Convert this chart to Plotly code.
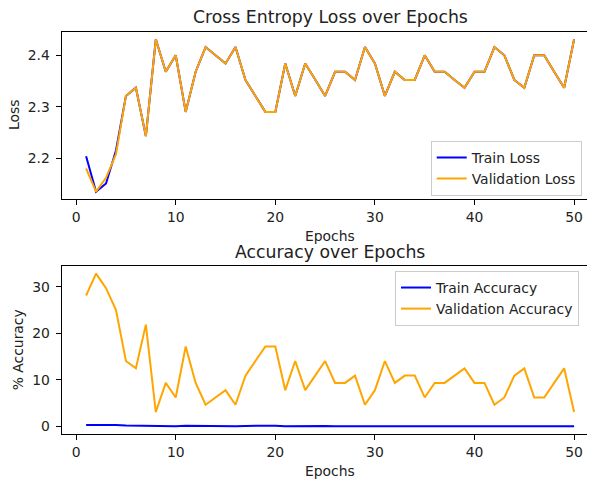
import plotly.graph_objects as go

epochs = list(range(1, 51))

train_loss = [2.204, 2.135, 2.151, 2.215, 2.321, 2.337, 2.243, 2.431, 2.368, 2.400,
              2.290, 2.368, 2.416, 2.400, 2.384, 2.416, 2.352, 2.321, 2.290, 2.290,
              2.384, 2.321, 2.384, 2.353, 2.321, 2.368, 2.368, 2.352, 2.416, 2.384,
              2.321, 2.368, 2.352, 2.352, 2.400, 2.368, 2.368, 2.352, 2.337, 2.368,
              2.368, 2.416, 2.400, 2.352, 2.337, 2.400, 2.400, 2.368, 2.337, 2.431]
val_loss = [2.180, 2.135, 2.162, 2.208, 2.321, 2.337, 2.243, 2.431, 2.368, 2.400,
            2.290, 2.368, 2.416, 2.400, 2.384, 2.416, 2.352, 2.321, 2.290, 2.290,
            2.384, 2.321, 2.384, 2.353, 2.321, 2.368, 2.368, 2.352, 2.416, 2.384,
            2.321, 2.368, 2.352, 2.352, 2.400, 2.368, 2.368, 2.352, 2.337, 2.368,
            2.368, 2.416, 2.400, 2.352, 2.337, 2.400, 2.400, 2.368, 2.337, 2.431]

train_acc = [0.35, 0.4, 0.4, 0.35, 0.25, 0.2, 0.25, 0.05, 0.1, 0.1,
             0.2, 0.15, 0.1, 0.1, 0.1, 0.1, 0.15, 0.2, 0.2, 0.2,
             0.1, 0.15, 0.1, 0.15, 0.15, 0.1, 0.1, 0.1, 0.05, 0.1,
             0.15, 0.1, 0.1, 0.1, 0.05, 0.1, 0.1, 0.1, 0.15, 0.1,
             0.1, 0.05, 0.05, 0.1, 0.15, 0.1, 0.1, 0.1, 0.15, 0.05]
val_acc = [28.125, 32.8125, 29.6875, 25.0, 14.0625, 12.5, 21.875, 3.125, 9.375, 6.25,
           17.1875, 9.375, 4.6875, 6.25, 7.8125, 4.6875, 10.9375, 14.0625, 17.1875, 17.1875,
           7.8125, 14.0625, 7.8125, 10.9375, 14.0625, 9.375, 9.375, 10.9375, 4.6875, 7.8125,
           14.0625, 9.375, 10.9375, 10.9375, 6.25, 9.375, 9.375, 10.9375, 12.5, 9.375,
           9.375, 4.6875, 6.25, 10.9375, 12.5, 6.25, 6.25, 9.375, 12.5, 3.125]

loss_ticks = [2.2, 2.3, 2.4]
acc_ticks = [0, 10, 20, 30]
epoch_ticks = [0, 10, 20, 30, 40, 50]

W, H = 595, 483
OFF = 8  # page body margin
FONT = "DejaVu Sans"
BLUE = "#0000ff"
ORANGE = "#ffa500"


def px(x):
    return (x - OFF) / W


def py(y):
    return 1 - (y - OFF) / H


def pad_range(vals):
    lo, hi = min(vals), max(vals)
    p = 0.05 * (hi - lo)
    return [lo - p, hi + p]


loss_range = pad_range(train_loss + val_loss)
acc_range = pad_range(train_acc + val_acc)
xr = pad_range(epochs)

fig = go.Figure()
fig.add_trace(go.Scatter(x=epochs, y=train_loss, mode="lines", name="Train Loss",
                         line=dict(color=BLUE, width=2), xaxis="x", yaxis="y", legend="legend"))
fig.add_trace(go.Scatter(x=epochs, y=val_loss, mode="lines", name="Validation Loss",
                         line=dict(color=ORANGE, width=2), xaxis="x", yaxis="y", legend="legend"))
fig.add_trace(go.Scatter(x=epochs, y=train_acc, mode="lines", name="Train Accuracy",
                         line=dict(color=BLUE, width=2), xaxis="x2", yaxis="y2", legend="legend2"))
fig.add_trace(go.Scatter(x=epochs, y=val_acc, mode="lines", name="Validation Accuracy",
                         line=dict(color=ORANGE, width=2), xaxis="x2", yaxis="y2", legend="legend2"))

xdom = [px(61.7), px(598.5)]
top_dom = [py(199.3), py(31.7)]
bot_dom = [py(434), py(266)]

axis_common = dict(showgrid=False, zeroline=False, showline=True, linecolor="black",
                   linewidth=1.1, ticks="outside", ticklen=5, tickwidth=1.1, mirror=True,
                   tickcolor="black", tickfont=dict(family=FONT, size=13.9, color="#222"))
leg_common = dict(xanchor="left", yanchor="top",
                  bgcolor="rgba(255,255,255,0.8)", bordercolor="#cccccc", borderwidth=1,
                  font=dict(family=FONT, size=13.9, color="#222"), tracegroupgap=0)
fig.update_layout(
    width=W, height=H,
    margin=dict(l=0, r=0, t=0, b=0),
    plot_bgcolor="white", paper_bgcolor="white",
    showlegend=True,
    xaxis=dict(domain=xdom, range=xr, tickvals=epoch_ticks, anchor="y", **axis_common),
    yaxis=dict(domain=top_dom, range=loss_range, tickvals=loss_ticks, tickformat=".1f",
               anchor="x", ticklabelstandoff=3, **axis_common),
    xaxis2=dict(domain=xdom, range=xr, tickvals=epoch_ticks, anchor="y2", **axis_common),
    yaxis2=dict(domain=bot_dom, range=acc_range, tickvals=acc_ticks, anchor="x2",
                ticklabelstandoff=3, **axis_common),
    legend=dict(x=px(430.7), y=py(141), **leg_common),
    legend2=dict(x=px(395), y=py(271), **leg_common),
)

cx = (61.7 + 598.5) / 2
ann = [
    dict(text="Cross Entropy Loss over Epochs", x=cx, y=17, size=17.3),
    dict(text="Accuracy over Epochs", x=cx, y=251.7, size=17.3),
    dict(text="Epochs", x=cx, y=235.7, size=13.9),
    dict(text="Epochs", x=cx, y=470.7, size=13.9),
]
for a in ann:
    fig.add_annotation(text=a["text"], x=px(a["x"]), y=py(a["y"]), xref="paper", yref="paper",
                       xanchor="center", yanchor="middle", showarrow=False,
                       font=dict(family=FONT, size=a["size"], color="#222"))
fig.add_annotation(text="Loss", x=px(13.5), y=py(115.5), xref="paper", yref="paper",
                   xanchor="center", yanchor="middle", showarrow=False, textangle=-90,
                   font=dict(family=FONT, size=13.9, color="#222"))
fig.add_annotation(text="% Accuracy", x=px(18.3), y=py(350), xref="paper", yref="paper",
                   xanchor="center", yanchor="middle", showarrow=False, textangle=-90,
                   font=dict(family=FONT, size=13.9, color="#222"))

fig.write_html("out.html")
